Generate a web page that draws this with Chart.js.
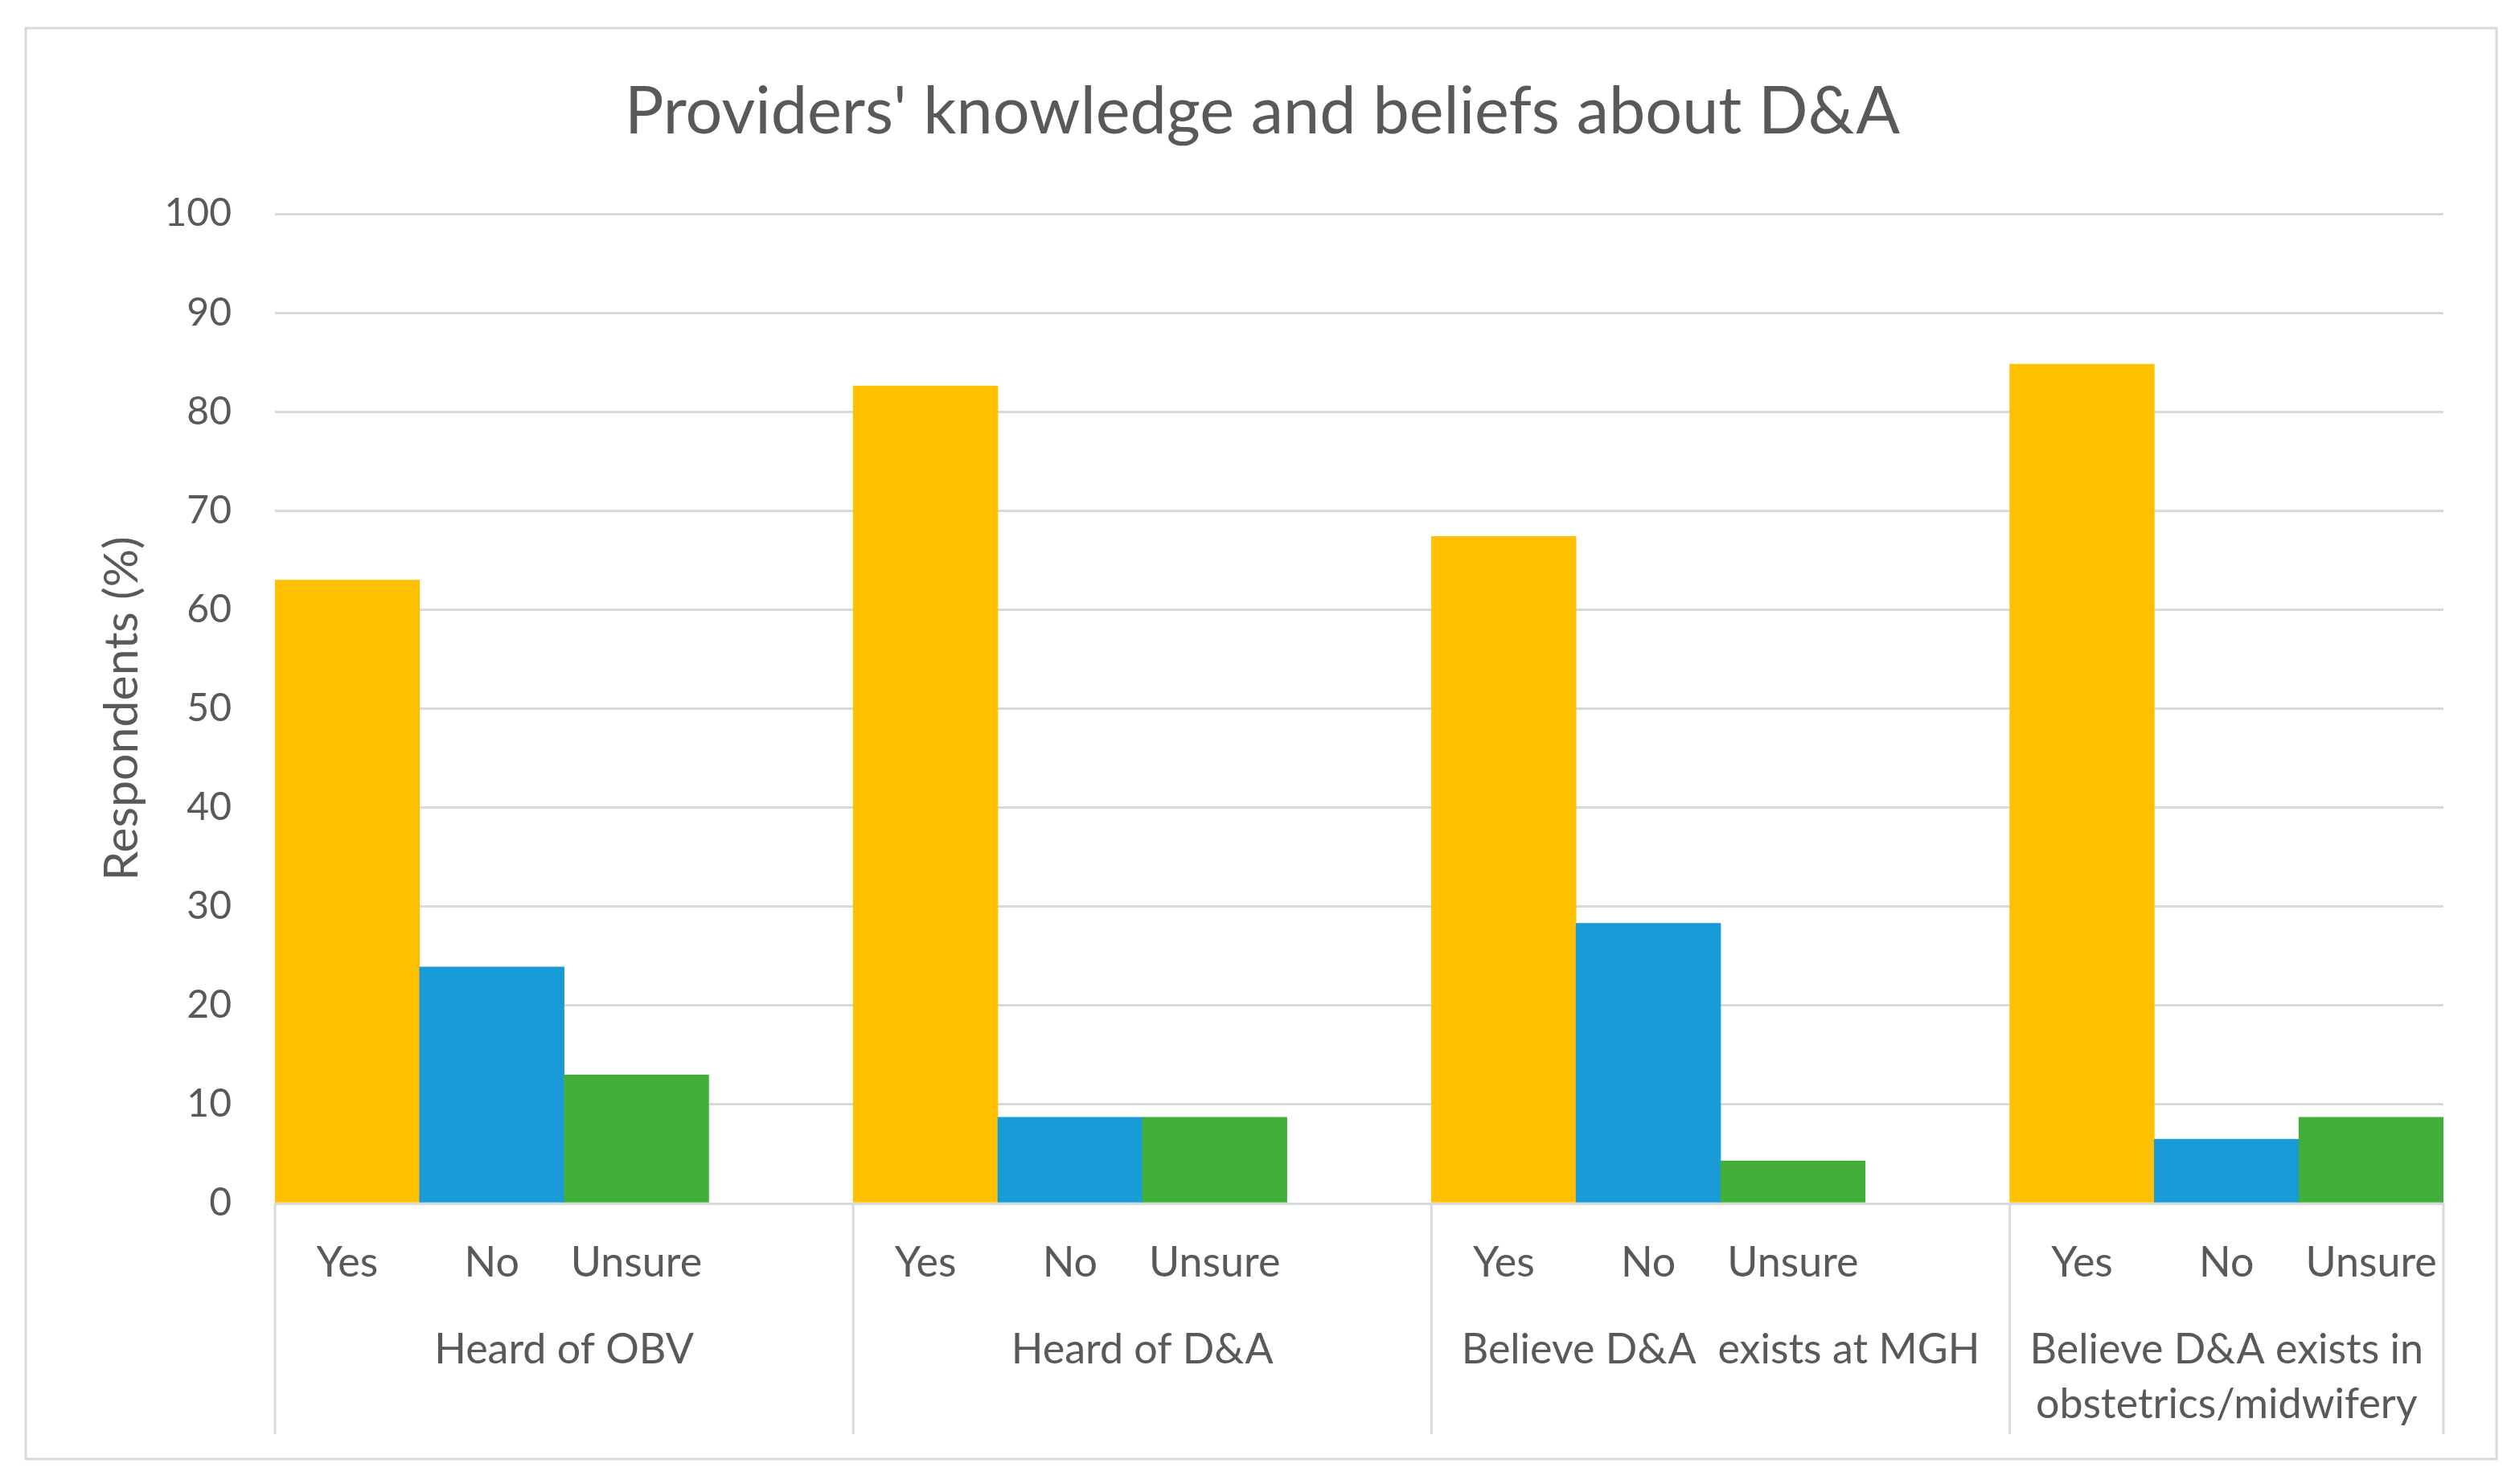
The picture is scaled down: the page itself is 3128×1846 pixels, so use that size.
<!DOCTYPE html>
<html><head><meta charset="utf-8">
<script src="https://cdn.jsdelivr.net/npm/chart.js@4.4.1/dist/chart.umd.min.js"></script>
<style>html,body{margin:0;padding:0;background:#fff;}#wrap{width:3128px;height:1846px;}</style>
</head><body><div id="wrap"><canvas id="c" width="3128" height="1846"></canvas></div>
<script>
// ---- data ----
const categories = ['Yes','No','Unsure','', 'Yes','No','Unsure','', 'Yes','No','Unsure','', 'Yes','No','Unsure'];
const groupLabels = ['Heard of OBV', 'Heard of D&A', 'Believe D&A  exists at MGH', ['Believe D&A exists in', 'obstetrics/midwifery']];
const groupSizes = [4, 4, 4, 3];
const respondentPct = [63.0, 23.9, 13.0, null, 82.6, 8.7, 8.7, null, 67.4, 28.3, 4.3, null, 84.8, 6.5, 8.7];
const yTickValues = [0, 10, 20, 30, 40, 50, 60, 70, 80, 90, 100];
const chartTitle = "Providers' knowledge and beliefs about D&A";
const yAxisTitle = 'Respondents (%)';

// ---- styles ----
const answerColors = { 'Yes': '#FFC000', 'No': '#189BD7', 'Unsure': '#43AE3A', '': 'rgba(0,0,0,0)' };
const FONT = 'Lato';
const TEXT = '#595959';
const GRID = '#D9D9D9';

const bgPlugin = {
  id: 'bg',
  beforeDraw(chart) {
    const ctx = chart.ctx;
    ctx.save();
    ctx.fillStyle = '#ffffff';
    ctx.fillRect(0, 0, chart.width, chart.height);
    ctx.strokeStyle = GRID;
    ctx.lineWidth = 3;
    ctx.strokeRect(32, 35, 3073, 1780);
    ctx.fillStyle = TEXT;
    ctx.font = '81px ' + FONT;
    ctx.textAlign = 'center';
    ctx.textBaseline = 'alphabetic';
    ctx.fillText(chartTitle, 1570, 166);
    ctx.restore();
  }
};

const groupPlugin = {
  id: 'groups',
  afterDraw(chart) {
    const ctx = chart.ctx, x = chart.scales.x, area = chart.chartArea;
    const slot = x.getPixelForValue(1) - x.getPixelForValue(0);
    ctx.save();
    ctx.strokeStyle = GRID;
    ctx.lineWidth = 3;
    ctx.fillStyle = TEXT;
    ctx.font = '52px ' + FONT;
    ctx.textAlign = 'center';
    ctx.textBaseline = 'alphabetic';
    let start = 0;
    groupLabels.forEach((lbl, i) => {
      const left = x.getPixelForValue(start) - slot / 2;
      const right = x.getPixelForValue(start + groupSizes[i] - 1) + slot / 2;
      ctx.beginPath();
      ctx.moveTo(left, area.bottom);
      ctx.lineTo(left, area.bottom + 287);
      if (i === groupLabels.length - 1) {
        ctx.moveTo(right, area.bottom);
        ctx.lineTo(right, area.bottom + 287);
      }
      ctx.stroke();
      const lines = Array.isArray(lbl) ? lbl : [lbl];
      lines.forEach((t, k) => ctx.fillText(t, (left + right) / 2, area.bottom + 199 + k * 68));
      start += groupSizes[i];
    });
    ctx.restore();
  }
};

new Chart(document.getElementById('c'), {
  type: 'bar',
  data: {
    labels: categories,
    datasets: [{
      data: respondentPct,
      backgroundColor: categories.map(c => answerColors[c]),
      borderWidth: 0,
      barPercentage: 1,
      categoryPercentage: 1
    }]
  },
  options: {
    responsive: false,
    animation: false,
    devicePixelRatio: 1,
    layout: { padding: { top: 266, left: 32, right: 89, bottom: 31 } },
    plugins: {
      legend: { display: false },
      tooltip: { enabled: false },
      title: { display: false }
    },
    scales: {
      x: {
        grid: { display: false },
        border: { display: true, color: GRID, width: 3 },
        ticks: { color: TEXT, font: { family: FONT, size: 52 }, padding: 35, autoSkip: false, maxRotation: 0 },
        afterFit(s) { s.height = 318; }
      },
      y: {
        min: 0, max: 100,
        afterBuildTicks(s) { s.ticks = yTickValues.map(v => ({ value: v })); },
        grid: { color: GRID, lineWidth: 3, drawTicks: false },
        border: { display: false },
        ticks: { color: TEXT, font: { family: FONT, size: 48 }, padding: 54 },
        title: { display: true, text: yAxisTitle, color: TEXT, font: { family: FONT, size: 59 }, padding: { top: 85, bottom: 0 } },
        afterFit(s) { s.width = 310; }
      }
    }
  },
  plugins: [bgPlugin, groupPlugin]
});
</script></body></html>
